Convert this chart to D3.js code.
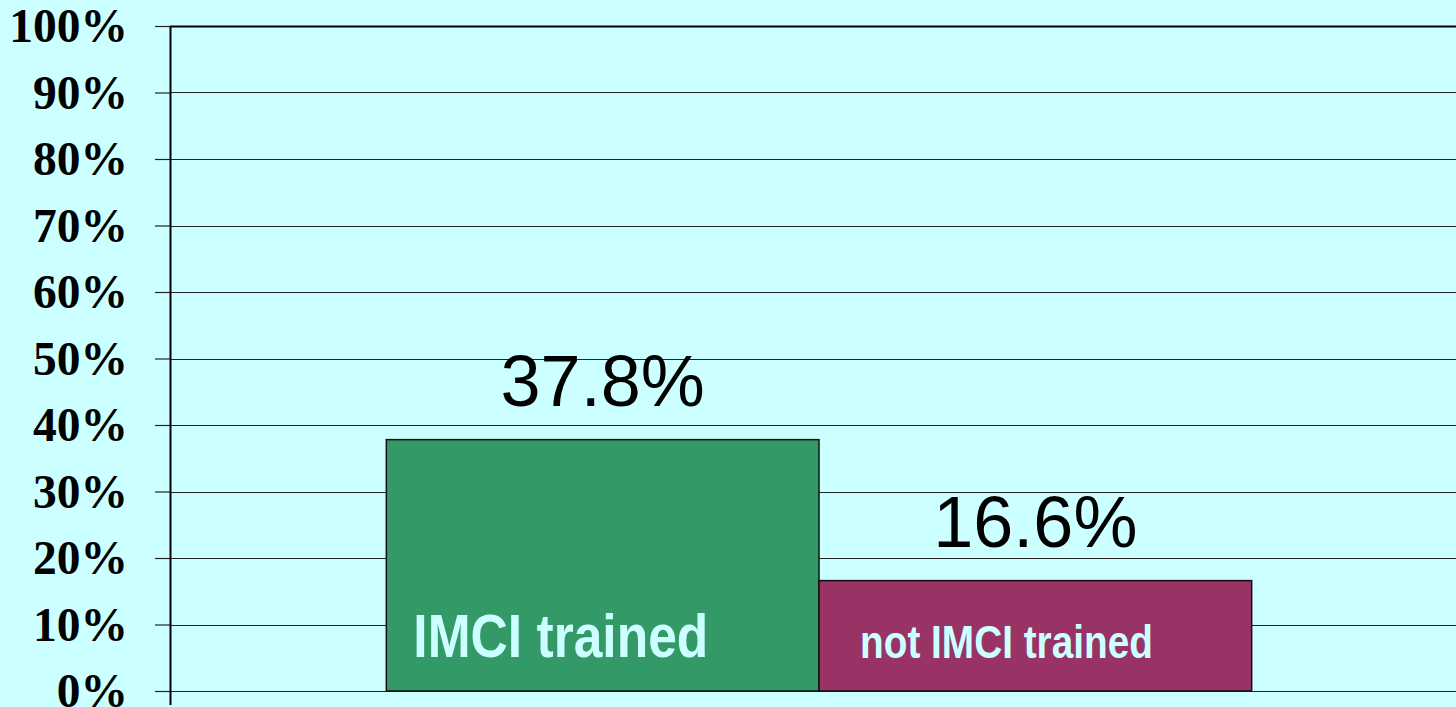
<!DOCTYPE html>
<html><head><meta charset="utf-8">
<script src="https://cdn.jsdelivr.net/npm/d3@7"></script>
<style>html,body{margin:0;padding:0;background:#CCFFFF;overflow:hidden}</style>
</head><body>
<svg id="c" width="1456" height="707"></svg>
<script>
const categories = ["group"];
const series = ["IMCI trained", "not IMCI trained"];
const values = [0.378, 0.166];
const valueLabels = ["37.8%", "16.6%"];
const tickValues = [0,0.1,0.2,0.3,0.4,0.5,0.6,0.7,0.8,0.9,1.0];
const colors = ["#339966", "#993366"];

(function(){
const svg = d3.select("#c");
const mLeft = 170, mRight = 1468, mTop = 26, mBottom = 691;

const y = d3.scaleLinear().domain([0,1]).range([mBottom, mTop]);
const xCat = d3.scaleBand().domain(categories).range([mLeft, mRight]);
const xSer = d3.scaleBand().domain(series).range([0, xCat.bandwidth()]).paddingInner(0).paddingOuter(0.5);

// gridlines
svg.append("g").selectAll("line").data(tickValues).join("line")
  .attr("x1", mLeft).attr("x2", 1456)
  .attr("y1", d => Math.round(y(d)) + 0.5).attr("y2", d => Math.round(y(d)) + 0.5)
  .attr("stroke", d => d === 1 ? "#000" : "#222")
  .attr("stroke-width", d => d === 1 ? 2 : 1.2);

// axis
const axis = d3.axisLeft(y).tickValues(tickValues).tickSize(15).tickFormat(d3.format(".0%"));
const ag = svg.append("g").attr("transform", `translate(${mLeft},0)`).call(axis);
ag.select(".domain").remove();
ag.selectAll(".tick line").attr("stroke", "#222").attr("stroke-width", 1.2);
ag.selectAll(".tick text")
  .attr("x", -42).attr("dy", "0.33em")
  .attr("font-family", "'Liberation Serif','Times New Roman',serif")
  .attr("font-weight", "bold").attr("font-size", 47.5).attr("fill", "#000");
svg.append("line").attr("x1", mLeft + 0.5).attr("x2", mLeft + 0.5).attr("y1", mTop).attr("y2", 705)
  .attr("stroke", "#000").attr("stroke-width", 2);

// bars
svg.append("g").selectAll("rect").data(series).join("rect")
  .attr("x", (d) => xCat(categories[0]) + xSer(d))
  .attr("width", xSer.bandwidth())
  .attr("y", (d,i) => y(values[i]))
  .attr("height", (d,i) => y(0) - y(values[i]))
  .attr("fill", (d,i) => colors[i])
  .attr("stroke", "#111").attr("stroke-width", 1.5);

// value labels
svg.append("g").selectAll("text").data(series).join("text")
  .attr("x", d => xCat(categories[0]) + xSer(d) + xSer.bandwidth()/2)
  .attr("y", (d,i) => y(values[i]) - 34)
  .attr("text-anchor", "middle")
  .attr("font-family", "'Liberation Sans',Arial,sans-serif")
  .attr("font-size", 72).attr("fill", "#000")
  .text((d,i) => valueLabels[i]);

// in-bar labels (condensed bold look via textLength)
const inSizes = [62, 47];
const inOffsets = [27, 41];
const inWidths = [295, 293];
svg.append("g").selectAll("text").data(series).join("text")
  .attr("x", (d,i) => xCat(categories[0]) + xSer(d) + inOffsets[i])
  .attr("y", (d,i) => i === 0 ? 657 : 658)
  .attr("font-family", "'Liberation Sans',Arial,sans-serif")
  .attr("font-weight", "bold")
  .attr("font-size", (d,i) => inSizes[i]).attr("fill", "#CCFFFF")
  .attr("textLength", (d,i) => inWidths[i])
  .attr("lengthAdjust", "spacingAndGlyphs")
  .text(d => d);
})();
</script>
</body></html>
